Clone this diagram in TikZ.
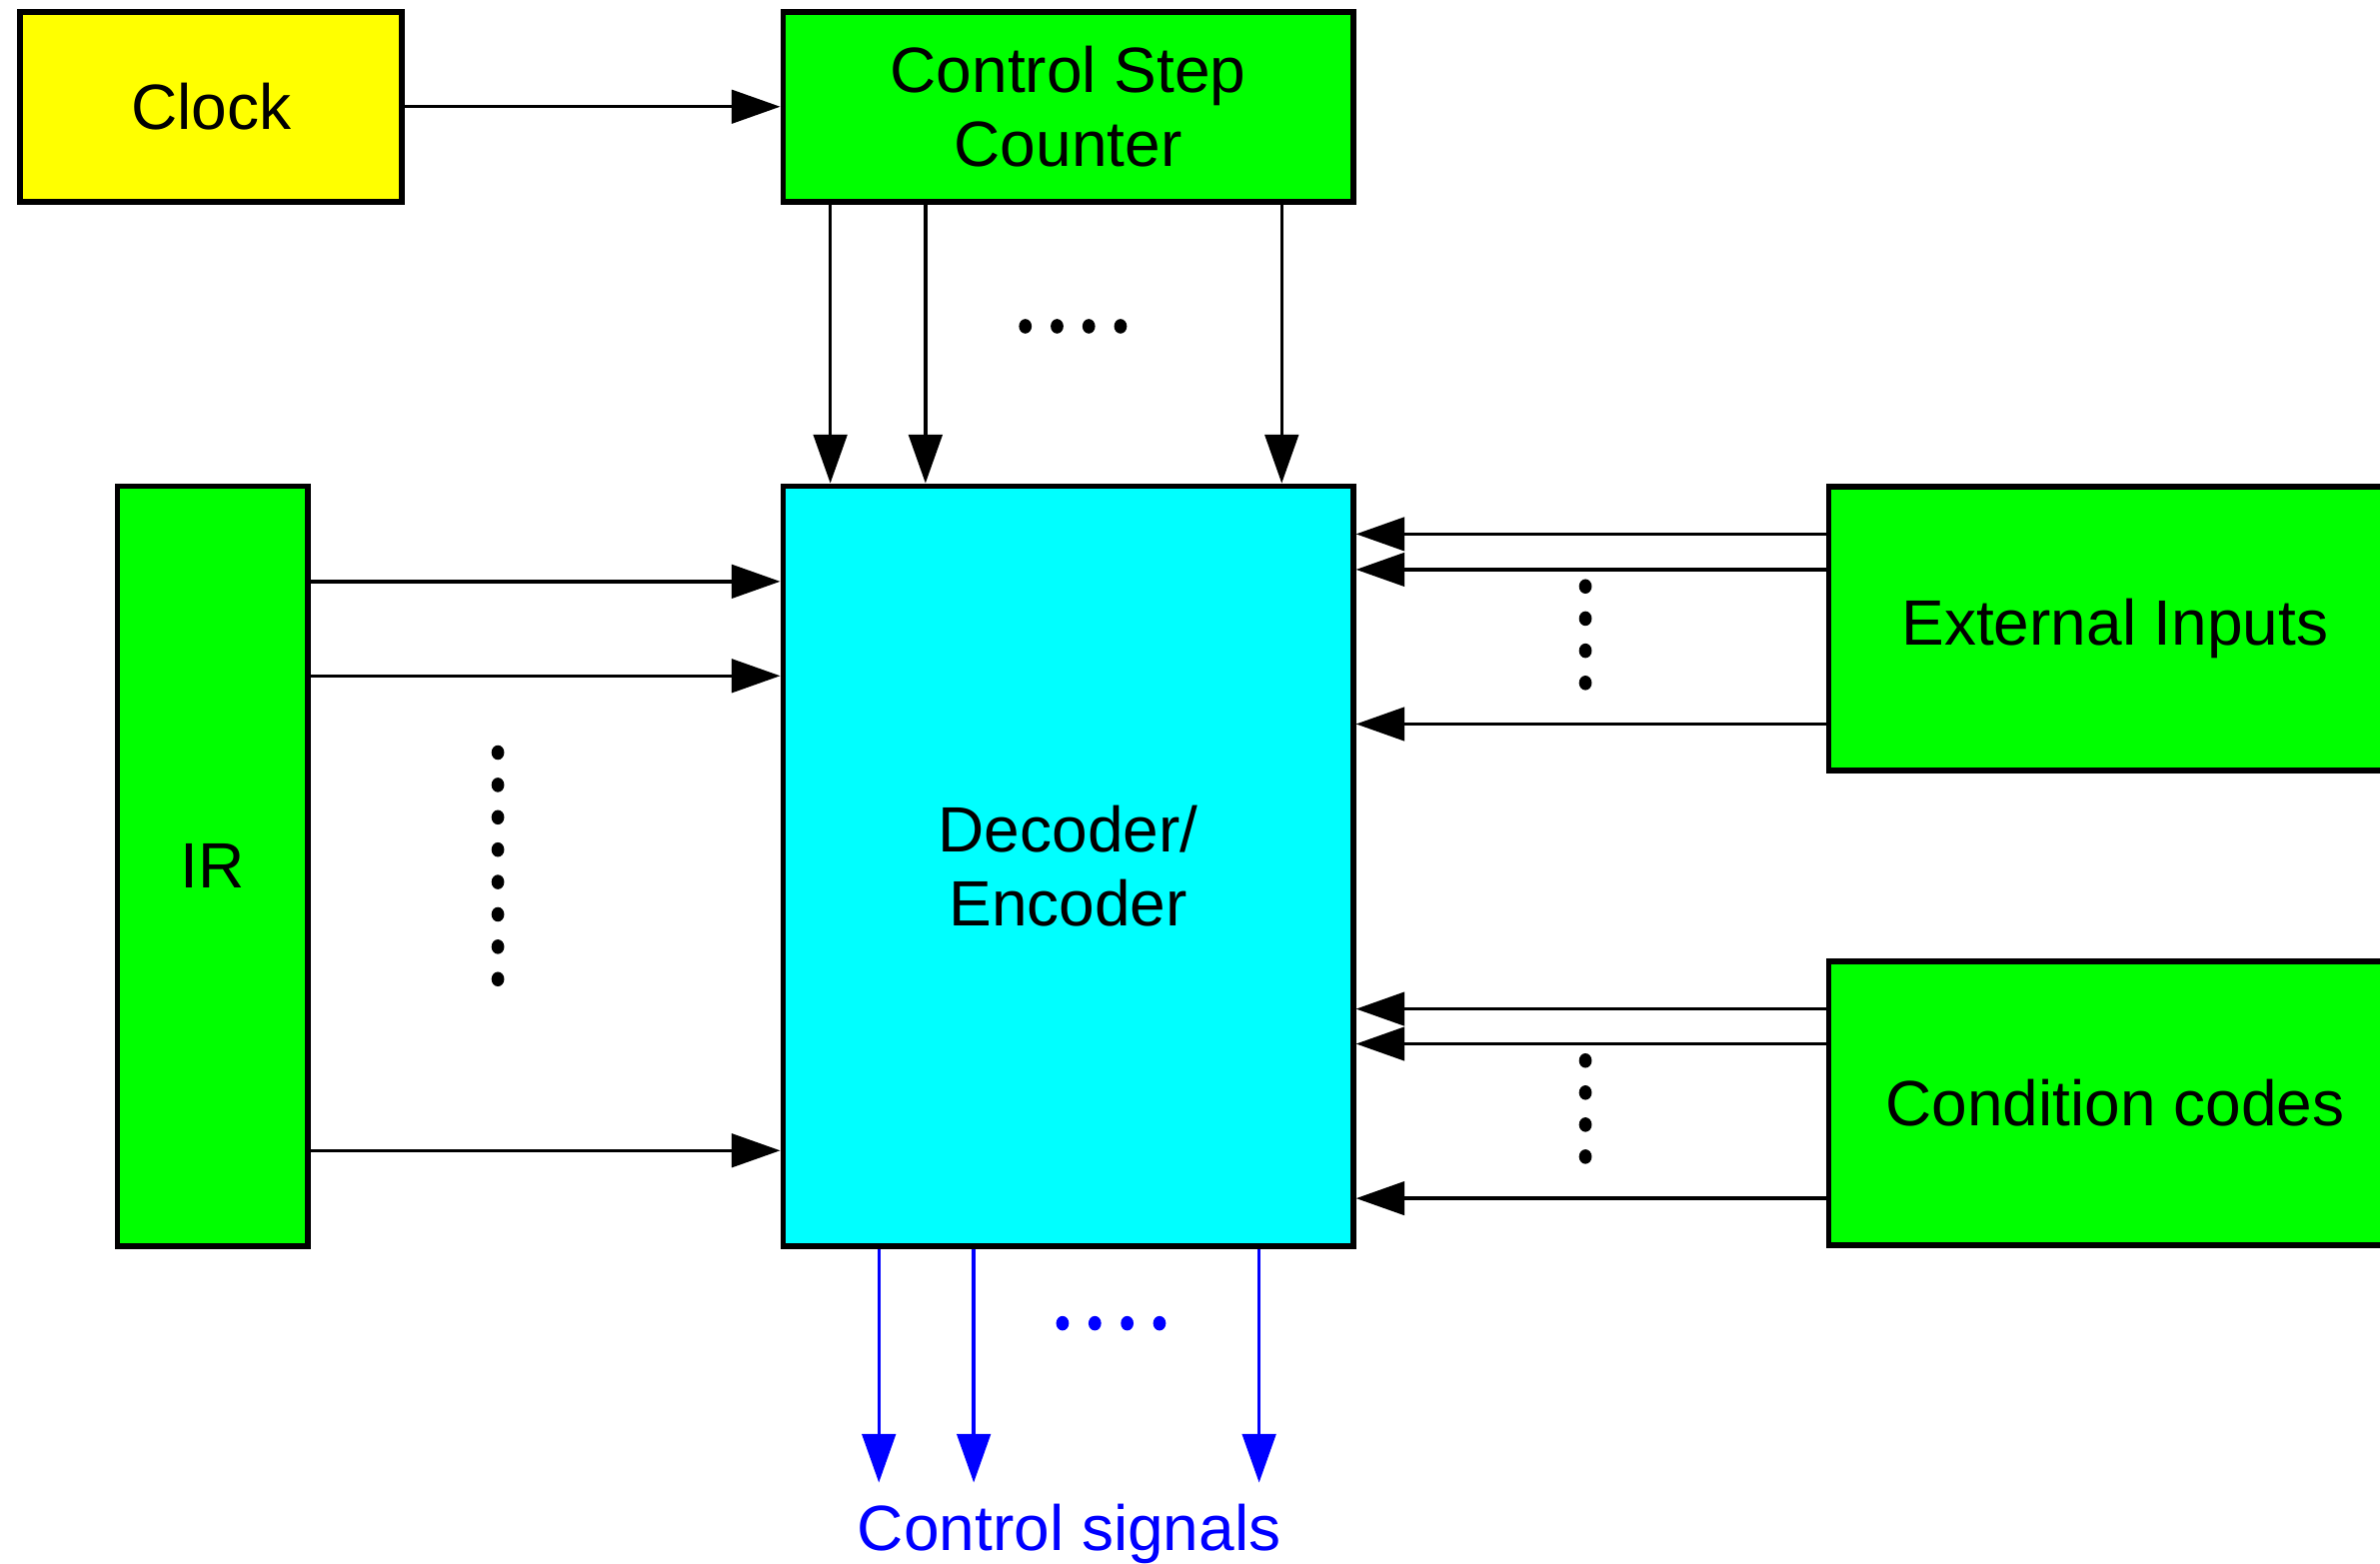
\documentclass[tikz,border=0pt]{standalone}
\usepackage{fontspec}
\setmainfont{Liberation Sans}
\usetikzlibrary{arrows.meta, positioning}
\definecolor{boxYellow}{RGB}{255,255,0}
\definecolor{boxGreen}{RGB}{0,255,0}
\definecolor{boxCyan}{RGB}{0,255,255}
\definecolor{sigBlue}{RGB}{0,0,255}

\begin{document}
\begin{tikzpicture}[
  font=\fontsize{12pt}{14pt}\selectfont,
  block/.style={draw=black, line width=1.1pt, inner sep=0pt, align=center},
  clockbox/.style={block, fill=boxYellow, minimum width=2.52cm, minimum height=1.25cm},
  unit/.style={block, fill=boxGreen},
  logic/.style={block, fill=boxCyan, minimum width=3.755cm, minimum height=5.006cm},
  a/.style={-{Triangle[length=3.2mm, width=2.2mm]}, line width=0.65pt},
  sig/.style={a, draw=sigBlue, fill=sigBlue}
]
\path[use as bounding box, clip] (0,0) rectangle (15.68,10.30);
\node[clockbox] (clock) at (1.39,9.597) {Clock};
\node[unit, minimum width=3.755cm, minimum height=1.25cm] (counter) at (7.037,9.597) {Control Step\\Counter};
\node[logic] (dec) at (7.037,4.593) {Decoder/\\Encoder};
\node[unit, minimum width=1.253cm, minimum height=5.006cm] (ir) at (1.40,4.593) {IR};
\node[unit, minimum width=3.772cm, minimum height=1.875cm] (ext) at (13.934,6.158) {External Inputs};
\node[unit, minimum width=3.772cm, minimum height=1.872cm] (cond) at (13.934,3.031) {Condition codes};
\node[text=sigBlue, anchor=base] (ctrl) at (7.045,0.08) {Control signals};
\coordinate (out) at (7.045,0.53);

\draw[a] (clock) -- (counter);
\foreach \x in {0.33,0.957,3.304}
  \draw[a] ([xshift=\x cm]counter.south west) -- ([xshift=\x cm]dec.north west);
\foreach \y in {0.647,1.269,4.397}
  \draw[a] ([yshift=-\y cm]ir.north east) -- ([yshift=-\y cm]dec.north west);
\foreach \y in {0.334,0.568,1.586} {
  \coordinate (e) at ([yshift=-\y cm]ext.north west);
  \draw[a] (e) -- (e -| dec.east);
}
\foreach \y in {0.335,0.565,1.583} {
  \coordinate (c) at ([yshift=-\y cm]cond.north west);
  \draw[a] (c) -- (c -| dec.east);
}
\foreach \x in {0.65,1.275,3.155} {
  \coordinate (s) at ([xshift=\x cm]dec.south west);
  \draw[sig] (s) -- (s |- out);
}

% dots
\foreach \i in {0,...,3}
  \fill ({6.755+0.209*\i},8.15) circle [x radius=0.042, y radius=0.048];
\foreach \i in {0,...,3}
  \fill[sigBlue] ({7.0+0.213*\i},1.58) circle [x radius=0.042, y radius=0.048];
\foreach \i in {0,...,7}
  \fill (3.28,{5.341-0.2133*\i}) circle [x radius=0.042, y radius=0.048];
\foreach \i in {0,...,3} {
  \fill (10.445,{6.436-0.212*\i}) circle [x radius=0.042, y radius=0.048];
  \fill (10.445,{3.311-0.211*\i}) circle [x radius=0.042, y radius=0.048];
}
\end{tikzpicture}
\end{document}
